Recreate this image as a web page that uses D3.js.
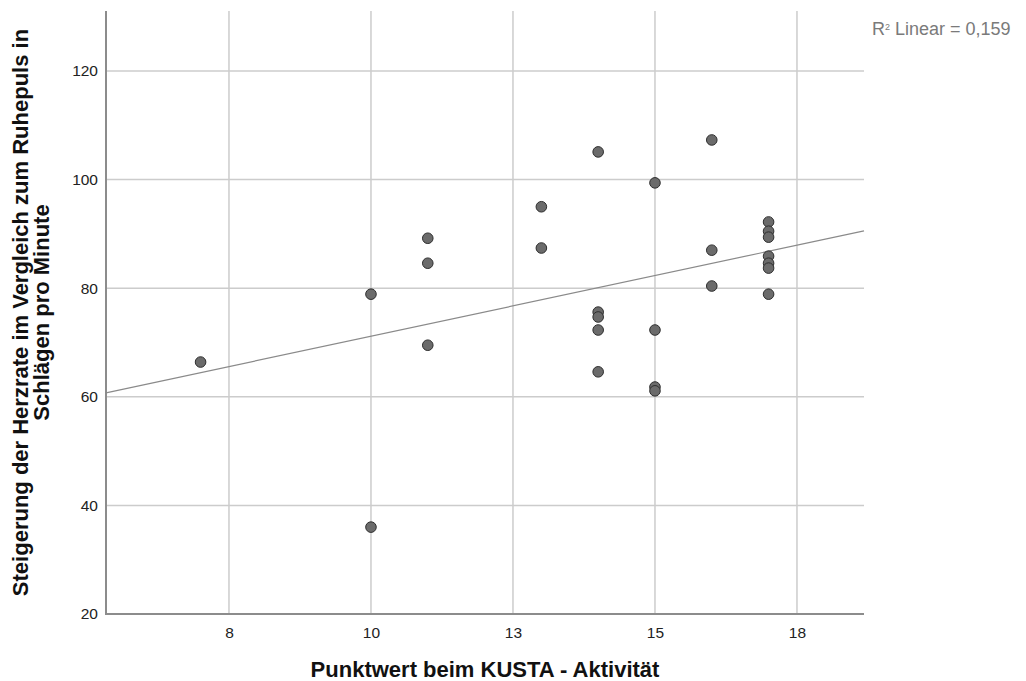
<!DOCTYPE html>
<html>
<head>
<meta charset="utf-8">
<script src="https://cdn.jsdelivr.net/npm/d3@7"></script>
<style>
  body { margin: 0; background: #fff; }
  svg { display: block; font-family: "Liberation Sans", Arial, sans-serif; }
</style>
</head>
<body>
<svg id="chart" width="1026" height="681"></svg>
<script>
// Data
const kustaScore = [7, 10, 10, 11, 11, 11, 13, 13, 14, 14, 14, 14, 14, 15, 15, 15, 15, 16, 16, 16, 17, 17, 17, 17, 17, 17, 17];
const heartRateIncrease = [66.4, 78.9, 36.0, 89.2, 84.6, 69.5, 95.0, 87.4, 105.1, 75.6, 74.7, 72.3, 64.6, 99.4, 72.3, 61.8, 61.1, 107.3, 87.0, 80.4, 92.2, 90.5, 89.4, 85.9, 84.6, 83.7, 78.9];
const xTicks = [7.5, 10, 12.5, 15, 17.5];
const xTickLabels = ["8", "10", "13", "15", "18"];
const yTicks = [20, 40, 60, 80, 100, 120];
const xTitle = "Punktwert beim KUSTA - Aktivität";
const yTitleLines = ["Steigerung der Herzrate im Vergleich zum Ruhepuls in", "Schlägen pro Minute"];
const fitLabel = "Linear = 0,159";

const svg = d3.select("#chart");
const L = 106, R = 864, T = 11, B = 614;
const x = d3.scaleLinear().domain([5.335, 18.68]).range([L, R]);
const y = d3.scaleLinear().domain([20, 131.05]).range([B, T]);
const FONT = "Liberation Sans, Arial, sans-serif";

// gridlines
svg.append("g").selectAll("line").data(xTicks).join("line")
  .attr("x1", d => x(d)).attr("x2", d => x(d))
  .attr("y1", T).attr("y2", B)
  .attr("stroke", "#cccccc").attr("stroke-width", 1.5);
svg.append("g").selectAll("line").data(yTicks.filter(d => d > 20)).join("line")
  .attr("x1", L).attr("x2", R)
  .attr("y1", d => y(d)).attr("y2", d => y(d))
  .attr("stroke", "#cccccc").attr("stroke-width", 1.5);

// axes (no tick marks)
const xAxis = d3.axisBottom(x).tickValues(xTicks).tickFormat((d, i) => xTickLabels[i]).tickSize(0).tickPadding(13);
const gx = svg.append("g").attr("transform", `translate(0,${B})`).call(xAxis)
  .attr("font-size", 15.5).attr("font-family", FONT);
gx.select(".domain").remove();
gx.selectAll("text").attr("fill", "#222");

const yAxis = d3.axisLeft(y).tickValues(yTicks).tickSize(0).tickPadding(8);
const gy = svg.append("g").attr("transform", `translate(${L},0)`).call(yAxis)
  .attr("font-size", 15.5).attr("font-family", FONT);
gy.select(".domain").remove();
gy.selectAll("text").attr("fill", "#222");

// axis lines
svg.append("line").attr("x1", L).attr("x2", L).attr("y1", T).attr("y2", B)
  .attr("stroke", "#8c8c8c").attr("stroke-width", 2);
svg.append("line").attr("x1", L - 1).attr("x2", R).attr("y1", B).attr("y2", B)
  .attr("stroke", "#8c8c8c").attr("stroke-width", 2);

// regression line (least squares)
const n = kustaScore.length;
const mx = d3.mean(kustaScore), my = d3.mean(heartRateIncrease);
let sxy = 0, sxx = 0;
for (let i = 0; i < n; i++) {
  sxy += (kustaScore[i] - mx) * (heartRateIncrease[i] - my);
  sxx += (kustaScore[i] - mx) ** 2;
}
const slope = sxy / sxx, intercept = my - slope * mx;
const [x0, x1] = x.domain();
svg.append("line")
  .attr("x1", x(x0)).attr("y1", y(intercept + slope * x0))
  .attr("x2", x(x1)).attr("y2", y(intercept + slope * x1))
  .attr("stroke", "#8a8a8a").attr("stroke-width", 1.2);

// points
svg.append("g").selectAll("circle").data(kustaScore.map((d, i) => [d, heartRateIncrease[i]])).join("circle")
  .attr("cx", d => x(d[0])).attr("cy", d => y(d[1])).attr("r", 5.3)
  .attr("fill", "#6b6b6b").attr("stroke", "#2e2e2e").attr("stroke-width", 1);

// titles
svg.append("text").attr("x", (L + R) / 2).attr("y", 677).attr("text-anchor", "middle")
  .attr("font-size", 22).attr("font-weight", "bold").attr("fill", "#111").text(xTitle);

const yt = svg.append("text").attr("transform", `translate(28,${(T + B) / 2}) rotate(-90)`)
  .attr("text-anchor", "middle").attr("font-size", 22).attr("font-weight", "bold").attr("fill", "#111");
yTitleLines.forEach((t, i) => yt.append("tspan").attr("x", 0).attr("dy", i === 0 ? 0 : 21).text(t));

// R² label
const rl = svg.append("text").attr("x", 872).attr("y", 35).attr("font-size", 18).attr("fill", "#7a7a7a");
rl.append("tspan").text("R");
rl.append("tspan").attr("font-size", 9).attr("dy", -5).text("2");
rl.append("tspan").attr("dy", 5).text(" " + fitLabel);
</script>
</body>
</html>
